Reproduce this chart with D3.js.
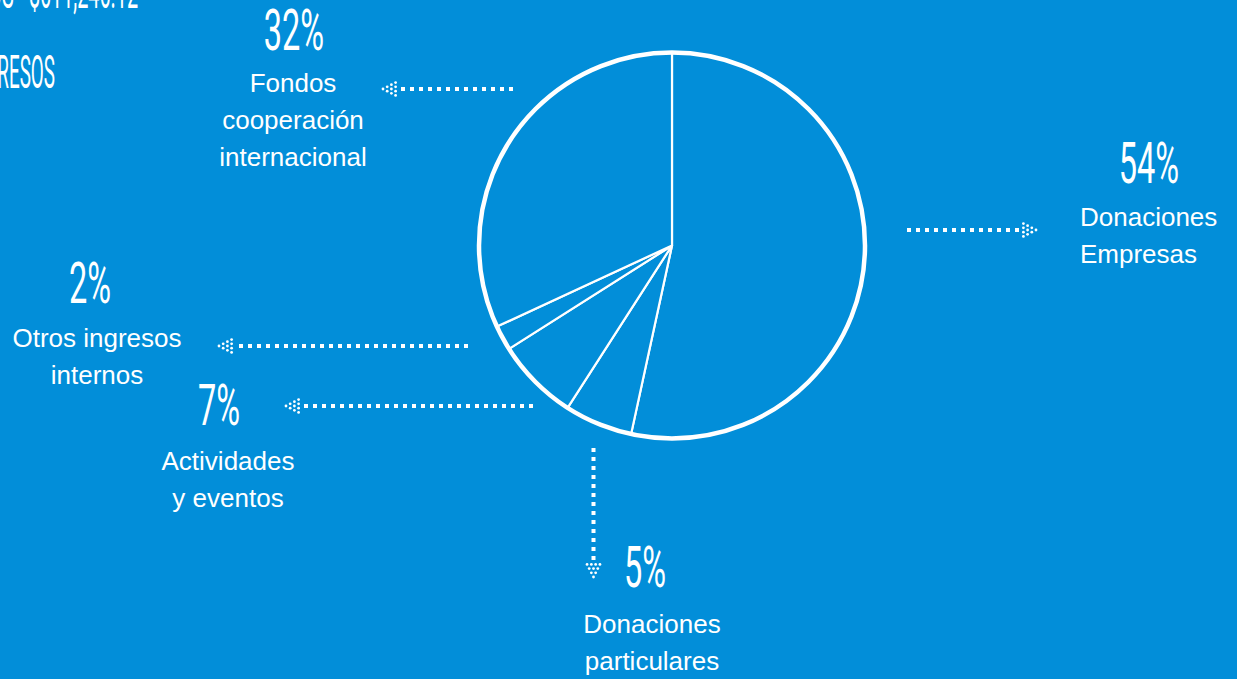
<!DOCTYPE html>
<html>
<head>
<meta charset="utf-8">
<script src="https://cdn.jsdelivr.net/npm/d3@7"></script>
<style>
  body { margin: 0; background: #028ed9; overflow: hidden; }
</style>
</head>
<body>
<div id="chart"></div>
<script>
// Income sources, clockwise from 12 o'clock
const categories = ["Donaciones Empresas", "Donaciones particulares", "Actividades y eventos", "Otros ingresos internos", "Fondos cooperación internacional"];
const shares = [53.4, 5.7, 6.9, 2.1, 31.9];
const pctLabels = ["54%", "5%", "7%", "2%", "32%"];
const labelLines = [
    ["Donaciones", "Empresas"],
    ["Donaciones", "particulares"],
    ["Actividades", "y eventos"],
    ["Otros ingresos", "internos"],
    ["Fondos", "cooperación", "internacional"]
];
const headerLines = ["TOTAL DE INGRESOS - $611,246.12", "INGRESOS"];

var width = 1237, height = 679;
var bg = "#028ed9";
var cx = 672, cy = 245.5, radius = 193;

// where each label and arrow sits
var layout = [
    { pct: [1149, 183], text: [1080, 226], anchor: "start", tail: [907, 230], tip: [1036, 230] },
    { pct: [645, 587], text: [652, 633], anchor: "middle", tail: [593.5, 448], tip: [593.5, 577] },
    { pct: [219, 425], text: [228, 470], anchor: "middle", tail: [533, 406], tip: [286, 406] },
    { pct: [90, 303], text: [97, 347], anchor: "middle", tail: [468, 346], tip: [219, 346] },
    { pct: [294, 50], text: [293, 92], anchor: "middle", tail: [513, 89], tip: [383, 89] }
];

var svg = d3.select("#chart")
    .append("svg")
    .attr("width", width)
    .attr("height", height)
    .style("display", "block");

svg.append("rect")
    .attr("width", width)
    .attr("height", height)
    .attr("fill", bg);

// condensed display text (squeezed horizontally)
function bigText(str, x, y, size, sx, anchor) {
    svg.append("text")
        .attr("transform", "translate(" + x + "," + y + ") scale(" + sx + ",1)")
        .attr("text-anchor", anchor)
        .style("font-family", "Roboto")
        .style("font-size", size + "px")
        .style("font-weight", 400)
        .attr("fill", "#fff")
        .text(str);
}

//Header, cut off by the frame
bigText(headerLines[0], 138, 8, 46, 0.43, "end");
bigText(headerLines[1], 55, 88, 46, 0.41, "end");

//Pie
var pie = d3.pie().sort(null).value(d => d);
var arc = d3.arc().innerRadius(0).outerRadius(radius);

var g = svg.append("g")
    .attr("transform", "translate(" + cx + "," + cy + ")");

g.selectAll("path")
    .data(pie(shares))
    .enter()
    .append("path")
    .attr("d", arc)
    .attr("fill", bg)
    .attr("stroke", "#fff")
    .attr("stroke-width", 2.2)
    .attr("stroke-linejoin", "round");

g.append("circle")
    .attr("r", radius)
    .attr("fill", "none")
    .attr("stroke", "#fff")
    .attr("stroke-width", 4.5);

//Labels
categories.forEach(function (c, i) {
    var L = layout[i];
    bigText(pctLabels[i], L.pct[0], L.pct[1], 58, 0.56, "middle");

    var t = svg.append("text")
        .attr("text-anchor", L.anchor)
        .style("font-family", "'Liberation Sans', Arial, sans-serif")
        .style("font-size", "26px")
        .attr("fill", "#fff");
    labelLines[i].forEach(function (line, k) {
        t.append("tspan")
            .attr("x", L.text[0])
            .attr("y", L.text[1] + k * 37)
            .text(line);
    });
});

//Dotted arrows
layout.forEach(function (L) {
    var dx = L.tip[0] - L.tail[0], dy = L.tip[1] - L.tail[1];
    var len = Math.sqrt(dx * dx + dy * dy);
    var ux = dx / len, uy = dy / len;

    svg.append("line")
        .attr("x1", L.tail[0])
        .attr("y1", L.tail[1])
        .attr("x2", L.tip[0] - ux * 17)
        .attr("y2", L.tip[1] - uy * 17)
        .attr("stroke", "#fff")
        .attr("stroke-width", 4)
        .attr("stroke-dasharray", "4 5");

    // triangle of little dots at the tip
    var dots = [];
    for (var k = 0; k < 4; k++) {
        for (var j = 0; j <= k; j++) {
            var off = (j - k / 2) * 4.3;
            dots.push([L.tip[0] - ux * k * 4.2 - uy * off, L.tip[1] - uy * k * 4.2 + ux * off]);
        }
    }
    svg.selectAll(null)
        .data(dots)
        .enter()
        .append("circle")
        .attr("cx", d => d[0])
        .attr("cy", d => d[1])
        .attr("r", 1.4)
        .attr("fill", "#fff");
});
</script>
</body>
</html>
